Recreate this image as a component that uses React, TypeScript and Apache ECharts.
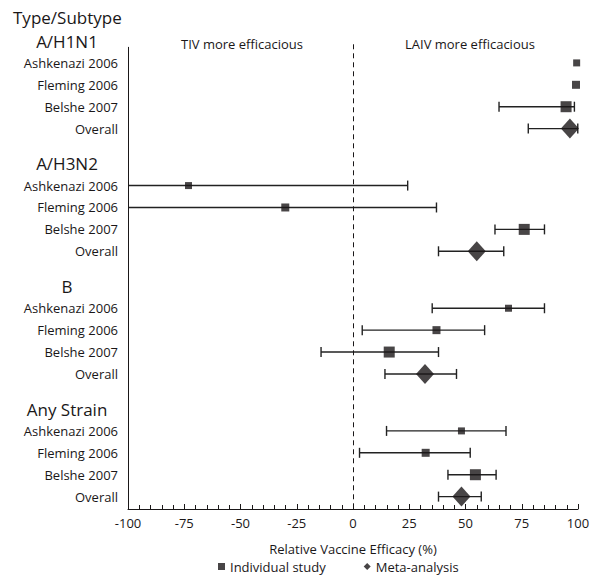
import React, { useEffect, useRef } from "react";
import * as echarts from "echarts";

// ---------- data ----------
const GROUPS = ["A/H1N1", "A/H3N2", "B", "Any Strain"];
const STUDIES = ["Ashkenazi 2006", "Fleming 2006", "Belshe 2007"];
const OVERALL_LABEL = "Overall";
const HEADER_TITLE = "Type/Subtype";

// relative vaccine efficacy (%) per group, per study
const STUDY_EST = [
  [99.4, 99.1, 94.7],
  [-73.1, -30.1, 76.1],
  [69.1, 37.1, 16.1],
  [48.2, 32.3, 54.4],
];
const STUDY_LO: (number | null)[][] = [
  [null, null, 64.9],
  [-120, -120, 63.1],
  [35.2, 4.1, -14.2],
  [14.9, 2.9, 42.2],
];
const STUDY_HI: (number | null)[][] = [
  [null, null, 98.4],
  [24.3, 37.1, 85.1],
  [85.1, 58.5, 38.0],
  [68.0, 52.1, 63.6],
];
const OVERALL_EST = [96.4, 55.0, 32.0, 48.2];
const OVERALL_LO = [77.9, 38.0, 14.2, 38.0];
const OVERALL_HI = [99.9, 67.0, 46.0, 57.0];

const X_MIN = -100;
const X_MAX = 100;
const X_INTERVAL = 25;
const X_TITLE = "Relative Vaccine Efficacy (%)";
const LEFT_NOTE = "TIV more efficacious";
const RIGHT_NOTE = "LAIV more efficacious";
const LEGEND_STUDY = "Individual study";
const LEGEND_META = "Meta-analysis";

// ---------- layout / style ----------
const GROUP_STEP = 5.6;
const Y_MAX = 21.365;
const AXIS_TOP = 0.27;
const DASH_TOP = 0.15;
const SQUARE_SIZES = [7, 8, 11];
const DIAMOND_SIZE = [18, 20];
const INK = "#1a1718";
const FONT = "'Open Sans', sans-serif";

type Row = { v: number; label: string; header: boolean };
const ROWS: Row[] = [];
GROUPS.forEach((g, gi) => {
  const base = gi * GROUP_STEP;
  ROWS.push({ v: base, label: g, header: true });
  STUDIES.forEach((s, si) => ROWS.push({ v: base + 1 + si, label: s, header: false }));
  ROWS.push({ v: base + 4, label: OVERALL_LABEL, header: false });
});

const studyPoints: any[] = [];
const metaPoints: any[] = [];
const errData: number[][] = [];
GROUPS.forEach((g, gi) => {
  const base = gi * GROUP_STEP;
  STUDIES.forEach((s, si) => {
    const y = base + 1 + si;
    studyPoints.push({ value: [STUDY_EST[gi][si], y], symbolSize: SQUARE_SIZES[si] });
    const lo = STUDY_LO[gi][si];
    const hi = STUDY_HI[gi][si];
    if (lo !== null && hi !== null) errData.push([lo, hi, y]);
  });
  const yo = base + 4;
  metaPoints.push({ value: [OVERALL_EST[gi], yo] });
  errData.push([OVERALL_LO[gi], OVERALL_HI[gi], yo]);
});

export default function App() {
  const ref = useRef<HTMLDivElement>(null);
  useEffect(() => {
    if (!ref.current) return;
    const chart = echarts.init(ref.current, null, { renderer: "svg" });
    const option: any = {
      animation: false,
      backgroundColor: "#ffffff",
      textStyle: { fontFamily: FONT, color: INK },
      title: {
        text: HEADER_TITLE,
        left: 13,
        top: 9,
        padding: 0,
        textStyle: { fontFamily: FONT, fontSize: 17, fontWeight: "normal", color: INK },
      },
      legend: {
        left: 218,
        top: 560,
        padding: 0,
        itemWidth: 7,
        itemHeight: 7,
        itemGap: 38,
        textStyle: { fontFamily: FONT, fontSize: 13, color: INK },
        data: [
          { name: LEGEND_STUDY, icon: "rect" },
          { name: LEGEND_META, icon: "diamond" },
        ],
      },
      grid: { left: 128, top: 41, width: 450, height: 468 },
      xAxis: {
        type: "value",
        min: X_MIN,
        max: X_MAX,
        interval: X_INTERVAL,
        name: X_TITLE,
        nameLocation: "middle",
        nameGap: 33,
        nameTextStyle: { fontFamily: FONT, fontSize: 13, color: INK },
        axisLine: { show: true, onZero: false, lineStyle: { color: INK, width: 1 } },
        axisTick: { show: true, inside: true, length: 5, lineStyle: { color: INK } },
        minorTick: { show: true, splitNumber: 5, length: 4, lineStyle: { color: INK } },
        splitLine: { show: false },
        minorSplitLine: { show: false },
        axisLabel: { fontFamily: FONT, fontSize: 13, color: INK, margin: 7 },
      },
      yAxis: {
        type: "value",
        inverse: true,
        min: 0,
        max: Y_MAX,
        axisLine: { show: false, onZero: false },
        axisTick: { show: false },
        splitLine: { show: false },
        axisLabel: {
          customValues: ROWS.map((r) => r.v),
          margin: 10,
          fontFamily: FONT,
          fontSize: 13,
          color: INK,
          formatter: (val: number) => {
            const r = ROWS.find((x) => Math.abs(x.v - val) < 0.01);
            if (!r) return "";
            return r.header ? `{h|${r.label}}` : r.label;
          },
          rich: {
            h: { fontFamily: FONT, fontSize: 17, color: INK, width: 102, align: "center" },
          },
        },
      },
      graphic: [
        {
          type: "text",
          left: 181,
          top: 37,
          style: { text: LEFT_NOTE, fontFamily: FONT, fontSize: 13, fill: INK },
        },
        {
          type: "text",
          left: 405,
          top: 37,
          style: { text: RIGHT_NOTE, fontFamily: FONT, fontSize: 13, fill: INK },
        },
      ],
      series: [
        {
          type: "custom",
          name: "ci",
          z: 1,
          silent: true,
          encode: { x: [0, 1], y: 2 },
          data: errData,
          renderItem: (params: any, api: any) => {
            const lo = api.value(0);
            const hi = api.value(1);
            const y = api.value(2);
            const loC = Math.max(lo, X_MIN);
            const hiC = Math.min(hi, X_MAX);
            const p1 = api.coord([loC, y]);
            const p2 = api.coord([hiC, y]);
            const st = { stroke: "#222222", lineWidth: 1.4 };
            const children: any[] = [
              { type: "line", shape: { x1: p1[0], y1: p1[1], x2: p2[0], y2: p2[1] }, style: st },
            ];
            if (lo >= X_MIN)
              children.push({
                type: "line",
                shape: { x1: p1[0], y1: p1[1] - 5, x2: p1[0], y2: p1[1] + 5 },
                style: st,
              });
            if (hi <= X_MAX)
              children.push({
                type: "line",
                shape: { x1: p2[0], y1: p2[1] - 5, x2: p2[0], y2: p2[1] + 5 },
                style: st,
              });
            return { type: "group", children };
          },
        },
        {
          type: "scatter",
          name: LEGEND_STUDY,
          symbol: "rect",
          z: 3,
          itemStyle: { color: INK },
          data: studyPoints,
          markLine: {
            silent: true,
            symbol: ["none", "none"],
            label: { show: false },
            data: [
              [
                { coord: [X_MIN, AXIS_TOP], lineStyle: { color: INK, width: 1, type: "solid" } },
                { coord: [X_MIN, Y_MAX] },
              ],
              [
                { coord: [0, DASH_TOP], lineStyle: { color: INK, width: 1, type: [5, 4] } },
                { coord: [0, Y_MAX] },
              ],
            ],
          },
        },
        {
          type: "scatter",
          name: LEGEND_META,
          symbol: "diamond",
          symbolSize: DIAMOND_SIZE,
          z: 3,
          itemStyle: { color: INK },
          data: metaPoints,
        },
      ],
    };
    chart.setOption(option);
    return () => chart.dispose();
  }, []);
  return (
    <div
      ref={ref}
      style={{ position: "fixed", left: 0, top: 0, width: 602, height: 577, background: "#fff" }}
    />
  );
}
